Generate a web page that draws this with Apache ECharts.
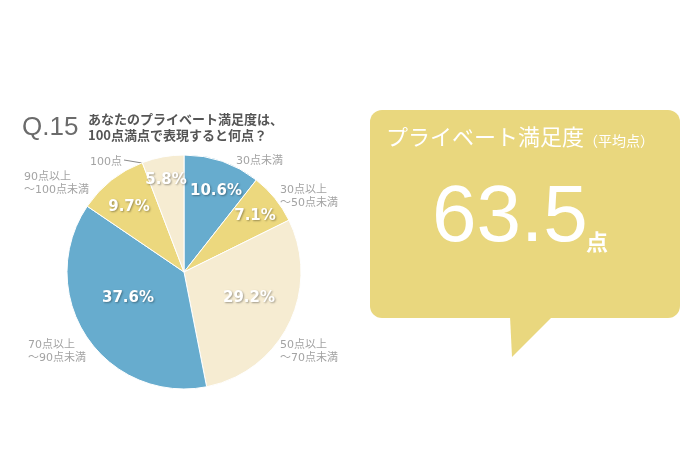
<!DOCTYPE html>
<html lang="ja">
<head>
<meta charset="utf-8" />
<title>プライベート満足度</title>
<script src="https://cdn.jsdelivr.net/npm/echarts@6/dist/echarts.min.js"></script>
<style>
  html, body { margin: 0; padding: 0; background: #fff; }
  #chart { width: 690px; height: 460px; }
</style>
</head>
<body>
<div id="chart"></div>
<script>
// slices, clockwise from 12 o'clock
const categories = ["30点未満", "30点以上\n～50点未満", "50点以上\n～70点未満", "70点以上\n～90点未満", "90点以上\n～100点未満", "100点"];
const shares = [10.6, 7.1, 29.2, 37.6, 9.7, 5.8];
const averageScore = "63.5";

const BLUE = "#67acce";
const YELLOW = "#ecd87e";
const CREAM = "#f6ecd2";
const sliceColors = [BLUE, YELLOW, CREAM, BLUE, YELLOW, CREAM];

// label spots (pixels)
const innerLabelPos = [[216, 191], [255, 216], [249, 298], [128, 298], [129, 207], [166, 180]];
const outerLabelPos = [[236, 161], [280, 197], [280, 352], [28, 352], [24, 184], [90, 162]];

const CENTER = [184, 272];
const RADIUS = 117;
const FONT = '"DejaVu Sans", "Noto Sans CJK JP", sans-serif';
const JP_FONT = '"Noto Sans CJK JP", sans-serif';

const chart = echarts.init(document.getElementById("chart"), null, { renderer: "canvas" });

const pieData = categories.map((name, i) => ({
  name,
  value: shares[i],
  itemStyle: { color: sliceColors[i] }
}));

const option = {
  animation: false,
  backgroundColor: "#fff",
  series: [
    {
      // slices + percentages
      type: "pie",
      center: CENTER,
      radius: RADIUS,
      startAngle: 90,
      clockwise: true,
      silent: true,
      itemStyle: { borderColor: "#fff", borderWidth: 1 },
      label: {
        show: true,
        position: "inside",
        formatter: (p) => p.value.toFixed(1) + "%",
        color: "#fff",
        fontFamily: FONT,
        fontWeight: "bold",
        fontSize: 15,
        textShadowColor: "rgba(0,0,0,0.35)",
        textShadowBlur: 2,
        textShadowOffsetX: 1,
        textShadowOffsetY: 1
      },
      labelLine: { show: false },
      labelLayout: (p) => ({
        x: innerLabelPos[p.dataIndex][0],
        y: innerLabelPos[p.dataIndex][1],
        align: "center",
        verticalAlign: "middle"
      }),
      data: pieData
    },
    {
      // category names around the pie
      type: "pie",
      center: CENTER,
      radius: RADIUS,
      startAngle: 90,
      clockwise: true,
      silent: true,
      itemStyle: { color: "transparent", borderWidth: 0 },
      label: {
        show: true,
        position: "outside",
        formatter: "{b}",
        color: "#a3a3a3",
        fontFamily: FONT,
        fontSize: 11,
        lineHeight: 13,
        overflow: "none",
        width: 120
      },
      labelLine: { show: false },
      labelLayout: (p) => {
        const pos = outerLabelPos[p.dataIndex];
        const out = { x: pos[0], y: pos[1], align: "left", verticalAlign: "middle" };
        if (p.dataIndex === 5) {
          out.labelLinePoints = [[124, 160], [142, 163], [160, 167]];
        }
        return out;
      },
      data: categories.map((name, i) => ({
        name,
        value: shares[i],
        labelLine: i === 5 ? { show: true, lineStyle: { color: "#8a8a8a", width: 1 } } : { show: false }
      }))
    }
  ],
  graphic: [
    {
      type: "text",
      left: 22,
      top: 115,
      style: { text: "Q.15", font: '26px "Liberation Sans", sans-serif', fill: "#6b6b6b" }
    },
    {
      type: "text",
      left: 88,
      top: 111,
      style: {
        text: "あなたのプライベート満足度は、\n100点満点で表現すると何点？",
        font: "bold 13px " + JP_FONT,
        lineHeight: 16,
        fill: "#555"
      }
    },
    {
      // speech bubble
      type: "group",
      children: [
        {
          type: "rect",
          shape: { x: 370, y: 110, width: 310, height: 208, r: 12 },
          style: { fill: "#e9d77e" }
        },
        {
          type: "polygon",
          shape: { points: [[510, 316], [512, 357], [553, 316]] },
          style: { fill: "#e9d77e" }
        }
      ]
    },
    {
      type: "text",
      x: 386,
      y: 137,
      style: {
        text: "{a|プライベート満足度}{b|（平均点）}",
        verticalAlign: "middle",
        fill: "#fff",
        rich: {
          a: { fontFamily: JP_FONT, fontSize: 22, fill: "#fff", verticalAlign: "bottom" },
          b: { fontFamily: JP_FONT, fontSize: 14, fill: "#fff", verticalAlign: "bottom" }
        }
      }
    },
    {
      type: "text",
      x: 432,
      y: 219,
      style: {
        text: averageScore,
        font: '80px "Liberation Sans", sans-serif',
        fill: "#fff",
        verticalAlign: "middle"
      }
    },
    {
      type: "text",
      x: 586,
      y: 242,
      style: { text: "点", font: "bold 22px " + JP_FONT, fill: "#fff", verticalAlign: "middle" }
    }
  ]
};

chart.setOption(option);
</script>
</body>
</html>
